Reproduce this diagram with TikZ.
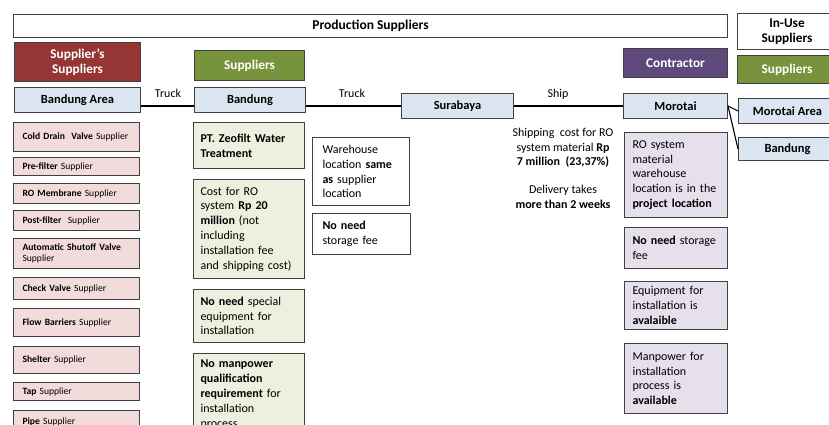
\documentclass[tikz,border=0pt]{standalone}
\usepackage{fontspec}
\setmainfont{Carlito}
\definecolor{bordergray}{RGB}{64,64,64}
\definecolor{hred}{RGB}{150,54,52}
\definecolor{hgreen}{RGB}{119,147,60}
\definecolor{hpurple}{RGB}{95,73,122}
\definecolor{lblue}{RGB}{220,230,242}
\definecolor{lpink}{RGB}{242,220,219}
\definecolor{lgreen}{RGB}{235,241,222}
\definecolor{lpurple}{RGB}{229,224,236}
\tikzset{
  box/.style={draw=bordergray, line width=1pt, inner sep=0pt, anchor=north west},
  hdr/.style={box, text=white, font=\fontsize{13.3}{15}\selectfont\bfseries, align=center},
  locbox/.style={box, fill=lblue, font=\fontsize{12.5}{15}\selectfont\bfseries},
  sbox/.style={box, fill=lpink, font=\fontsize{9.6}{11.5}\selectfont, align=left, inner xsep=9pt, text width=108pt},
  gbox/.style={box, fill=lgreen, font=\fontsize{12}{14.8}\selectfont, align=left, inner xsep=7pt, text width=97pt},
  wbox/.style={box, fill=white, font=\fontsize{12}{14.8}\selectfont, align=left, inner xsep=10pt, text width=77pt},
  pbox/.style={box, fill=lpurple, font=\fontsize{12}{14.8}\selectfont, align=left, inner xsep=8pt, text width=87pt},
  lbl/.style={font=\fontsize{12}{14}\selectfont, inner sep=0pt},
  conn/.style={draw=black, line width=1.1pt},
}
\begin{document}
\begin{tikzpicture}[x=1pt,y=-1pt]
\useasboundingbox (0,0) rectangle (829,425);
\clip (0,0) rectangle (829,425);
\fill[white] (0,0) rectangle (829,425);

% banner
\node[box, fill=white, minimum width=714pt, minimum height=23pt, font=\fontsize{13.5}{16}\selectfont\bfseries] (banner) at (13,14) {Production Suppliers};
\node[hdr, text=black, fill=white, minimum width=99pt, minimum height=36pt] (inuse) at (737,13) {In-Use\\Suppliers};

% headers
\node[hdr, fill=hred, minimum width=126pt, minimum height=39pt] (hss) at (14,42) {Supplier’s\\Suppliers};
\node[hdr, fill=hgreen, minimum width=110pt, minimum height=30pt] (hsup) at (194,50) {Suppliers};
\node[hdr, fill=hpurple, minimum width=104pt, minimum height=29pt] (hcon) at (623,48) {Contractor};
\node[hdr, fill=hgreen, minimum width=99pt, minimum height=28pt] (hsup2) at (737,55) {Suppliers};

% location boxes
\node[locbox, minimum width=126pt, minimum height=25pt] (ba) at (14,87) {Bandung Area};
\node[locbox, minimum width=111pt, minimum height=25pt] (bd) at (194,87) {Bandung};
\node[locbox, minimum width=112pt, minimum height=25pt] (sur) at (401,93) {Surabaya};
\node[locbox, minimum width=104pt, minimum height=25pt] (mor) at (623,93) {Morotai};
\node[locbox, minimum width=98pt, minimum height=25pt] (ma) at (738,98) {Morotai Area};
\node[locbox, minimum width=98pt, minimum height=23pt] (bdr) at (738,137) {Bandung};

% connectors
\draw[conn] (ba.east |- sur.center) -- (bd.west |- sur.center);
\draw[conn] (bd.east |- sur.center) -- (sur.west);
\draw[conn] (sur.east) -- (mor.west);
\draw[conn] (mor.east) -- (ma.west);
\draw[conn] (mor.east) -- (bdr.west);

\node[lbl] (t1) at (168,93) {Truck};
\node[lbl] (t2) at (352,93) {Truck};
\node[lbl] (t3) at (558,94) {Ship};

% left column
\node[sbox, minimum height=29pt] (s1) at (13,122) {\textbf{Cold Drain\ \ Valve} Supplier};
\node[sbox, minimum height=18pt] (s2) at (13,157) {\textbf{Pre-filter} Supplier};
\node[sbox, minimum height=20pt] (s3) at (13,183) {\textbf{RO Membrane} Supplier};
\node[sbox, minimum height=20pt] (s4) at (13,210) {\textbf{Post-filter}\ \ Supplier};
\node[sbox, minimum height=30pt] (s5) at (13,238) {\textbf{Automatic Shutoff Valve}\\Supplier};
\node[sbox, minimum height=22pt] (s6) at (13,277) {\textbf{Check Valve} Supplier};
\node[sbox, minimum height=28pt] (s7) at (13,308) {\textbf{Flow Barriers}\ Supplier};
\node[sbox, minimum height=27pt] (s8) at (13,346) {\textbf{Shelter} Supplier};
\node[sbox, minimum height=18pt] (s9) at (13,382) {\textbf{Tap} Supplier};
\node[sbox, minimum height=22pt] (s10) at (13,410) {\textbf{Pipe} Supplier};

% middle column
\node[gbox, minimum height=46pt] (g1) at (193,122) {\textbf{PT. Zeofilt Water}\\\textbf{Treatment}};
\node[gbox, minimum height=99pt] (g2) at (193,179) {Cost for RO\\system \textbf{Rp 20}\\\textbf{million} (not\\including\\installation fee\\and shipping\ cost)};
\node[gbox, minimum height=53pt] (g3) at (193,289) {\textbf{No need} special\\equipment for\\installation};
\node[gbox, minimum height=82pt] (g4) at (193,353) {\textbf{No manpower}\\\textbf{qualification}\\\textbf{requirement} for\\installation\\process};

\node[wbox, minimum height=68pt] (w1) at (312,137) {Warehouse\\location \textbf{same}\\\textbf{as} supplier\\location};
\node[wbox, text width=78pt, minimum height=41pt] (w2) at (312,213) {\textbf{No need}\\storage fee};

% shipping text
\node[lbl, align=center, font=\fontsize{12}{14.5}\selectfont] (ship) at (563,148) {Shipping\ \ cost for RO\\system material \textbf{Rp}\\\textbf{7 million}\ \ \textbf{(23,37\%)}};
\node[lbl, align=center, font=\fontsize{12}{14.5}\selectfont] (deliv) at (563,197) {Delivery takes\\\textbf{more than 2 weeks}};

% right column
\node[pbox, minimum height=85pt] (p1) at (624,132) {RO system\\material\\warehouse\\location is in the\\\textbf{project location}};
\node[pbox, minimum height=41pt] (p2) at (624,227) {\textbf{No need} storage\\fee};
\node[pbox, minimum height=48pt] (p3) at (624,281) {Equipment for\\installation is\\\textbf{avalaible}};
\node[pbox, minimum height=70pt] (p4) at (624,343) {Manpower for\\installation\\process is\\\textbf{available}};
\end{tikzpicture}
\end{document}
